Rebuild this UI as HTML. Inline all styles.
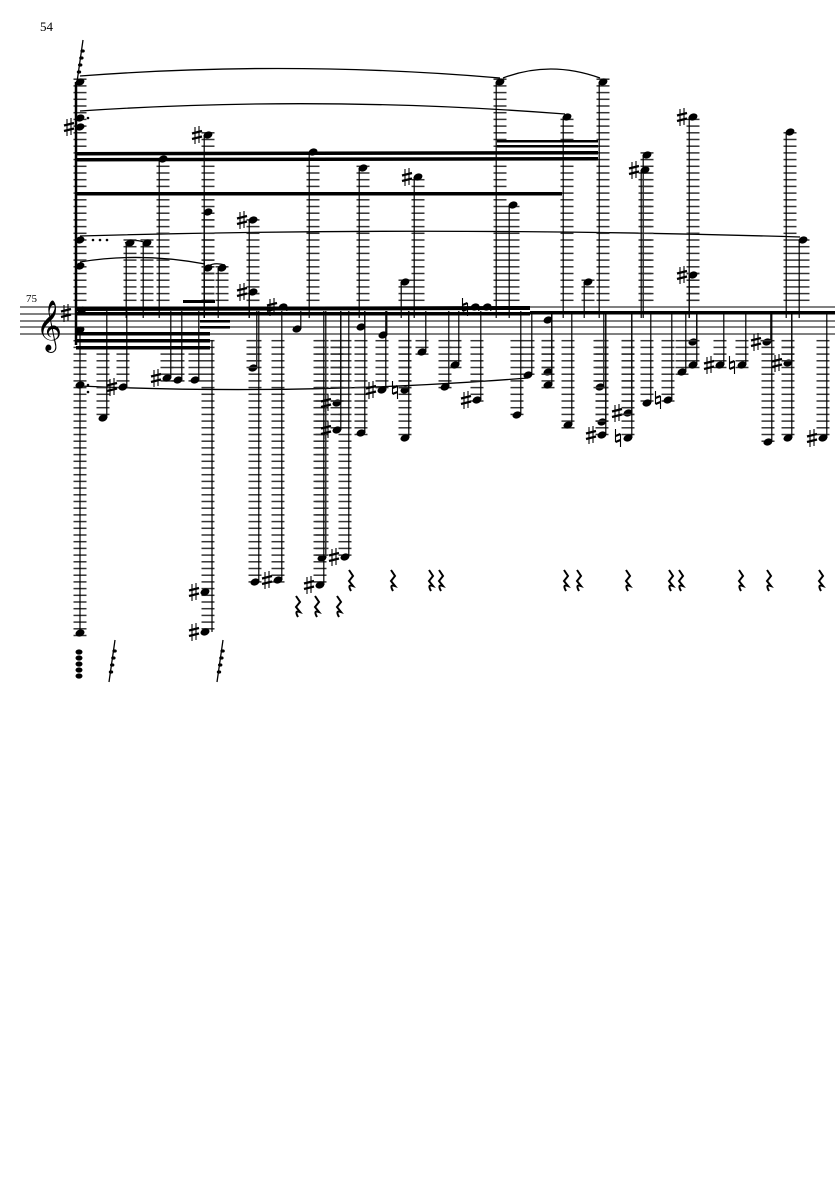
<!DOCTYPE html>
<html><head><meta charset="utf-8"><style>
html,body{margin:0;padding:0;background:#fff;}
svg{display:block;}
text{font-family:"Liberation Serif",serif;}
</style></head><body>
<svg id="s" width="835" height="1181" viewBox="0 0 835 1181" xmlns="http://www.w3.org/2000/svg">
<text x="40" y="31" font-size="13">54</text>
<text x="26" y="302" font-size="11">75</text>
<g stroke="#000" stroke-width="1">
<line x1="20" y1="307" x2="835" y2="307"/><line x1="20" y1="314" x2="835" y2="314"/>
<line x1="20" y1="321" x2="835" y2="321"/><line x1="20" y1="327" x2="835" y2="327"/>
<line x1="20" y1="334" x2="835" y2="334"/>
</g>
<text x="36" y="340" font-size="44">𝄞</text>
<g fill="none" stroke="#000" stroke-width="1.3">
<path d="M80 76 Q290 60 500 78"/><path d="M503 78 Q550 60 600 78"/>
<path d="M80 111 Q320 95 565 114"/>
<path d="M80 236 Q440 226 800 237"/>
<path d="M80 262 Q140 252 205 264"/>
<path d="M80 386 Q300 396 528 378"/>
<path d="M125 243 Q135 238 146 243"/><path d="M208 266 Q215 262 225 265"/>
</g>
<g id="g"></g>
</svg>
<script>
var g=document.getElementById('g'),NS='http://www.w3.org/2000/svg';
function el(t,a){var e=document.createElementNS(NS,t);for(var k in a)e.setAttribute(k,a[k]);g.appendChild(e);return e;}
function line(x1,y1,x2,y2,w,c){el('line',{x1:x1,y1:y1,x2:x2,y2:y2,stroke:c||'#000','stroke-width':w||1});}
function sharp(x,y){line(x-2,y-8,x-2,y+9,1.1);line(x+2,y-9,x+2,y+8,1.1);line(x-5,y-1.5,x+5,y-4,2.4);line(x-5,y+4,x+5,y+1.5,2.4);}
function natural(x,y){line(x-2.5,y-9,x-2.5,y+4,1.1);line(x+2.5,y-4,x+2.5,y+9,1.1);line(x-2.5,y-2,x+2.5,y-4,2.2);line(x-2.5,y+4,x+2.5,y+2,2.2);}
function ledgers(x,y){
 if(y<304){for(var k=1;307-6.7*k>=y-3;k++){var yy=307-6.7*k;line(x-6.5,yy,x+6.5,yy,1.5,'#333');}}
 if(y>337){for(var k=1;334+6.7*k<=y+3;k++){var yy=334+6.7*k;line(x-6.5,yy,x+6.5,yy,1.5,'#333');}}
}
function head(x,y,acc){
 el('ellipse',{cx:x,cy:y,rx:4.6,ry:3.4,transform:'rotate(-20 '+x+' '+y+')',fill:'#000'});
 if(acc=='♯')sharp(x-11,y);else if(acc=='♮')natural(x-10,y);
}
function n(x,y,acc){
 ledgers(x,y);head(x,y,acc);
 if(y<307){line(x-3.8,y,x-3.8,318,1.2);}
 else {line(x+3.8,y,x+3.8,311,1.2);}
}
sharp(66,313);
ledgers(80,82);ledgers(80,633);
line(76,82,76,345,2.5);line(80,330,80,633,1.2);
[[80,82],[80,118],[80,127,'♯'],[80,240],[80,266],[82,310],[80,330],[80,385],[80,633]].forEach(function(a){head(a[0],a[1],a[2]);});
[[88,118],[93,240],[100,240],[107,240],[88,385],[88,392]].forEach(function(a){el('circle',{cx:a[0],cy:a[1],r:1.3,fill:'#000'});});
var notes=[[103,418],[130,243],[147,243],[163,159],[123,387,'♯'],[167,378,'♯'],[178,380],[195,380],
[208,135,'♯'],[208,212],[208,268],[222,268],[253,220,'♯'],[253,292,'♯'],[253,368],[255,582],
[283,307,'♯'],[278,580,'♯'],[297,329],[313,152],[322,558],[320,585,'♯'],[345,557,'♯'],
[363,168],[337,403,'♯'],[337,430,'♯'],[361,433],[361,327],[383,335],[382,390,'♯'],[405,282],
[418,177,'♯'],[405,390,'♮'],[405,438],[422,352],[445,387],[455,365],[475,307,'♮'],[487,307],
[477,400,'♯'],[500,82],[513,205],[517,415],[528,375],[567,117],[548,320],[548,372],[548,385],
[603,82],[588,282],[568,425],[600,387],[602,422],[602,435,'♯'],[628,413,'♯'],[628,438,'♮'],
[647,155],[645,170,'♯'],[647,403],[668,400,'♮'],[682,372],[693,342],[693,365],[693,117,'♯'],
[693,275,'♯'],[720,365,'♯'],[742,365,'♮'],[767,342,'♯'],[768,442],[790,132],[803,240],
[788,363,'♯'],[788,438],[823,438,'♯']];
notes.forEach(function(a){n(a[0],a[1],a[2]);});
ledgers(208,632);line(212,340,212,632,1.2);head(205,592,'♯');head(205,632,'♯');
function beam(x1,y1,x2,y2,h){el('polygon',{points:x1+','+y1+' '+x2+','+y2+' '+x2+','+(y2+h)+' '+x1+','+(y1+h),fill:'#000'});}
beam(76,152,598,151,3.5);beam(76,158,598,157,3.5);beam(76,192,562,192,3.5);
beam(497,140,598,140,2.5);beam(497,145,598,145,2.5);
beam(76,307,530,306,4);beam(76,312,530,312,3.5);beam(530,311,838,311,3.5);
beam(76,332,210,332,3.5);beam(76,339,210,339,3.5);beam(76,346,210,346,3.5);
beam(183,300,215,300,3);beam(200,320,230,320,2.5);beam(200,326,230,326,2.5);
function rest(x,y){el('path',{d:'M'+(x-1)+' '+(y-10)+' L'+(x+3)+' '+(y-4)+' L'+(x-1)+' '+(y+1)+' L'+(x+3)+' '+(y+6)+' Q'+(x-3)+' '+(y+4)+' '+(x+1)+' '+(y+11),fill:'none',stroke:'#000','stroke-width':'2'});}
[350,392,430,440,565,578,627,670,680,740,768,820].forEach(function(x){rest(x,580);});
[297,316,338].forEach(function(x){rest(x,606);});
[[80,60],[112,660],[220,660]].forEach(function(a){line(a[0]-3,a[1]+22,a[0]+3,a[1]-20,1.3);for(var i=0;i<4;i++)el('ellipse',{cx:a[0]-1+i*1.2,cy:a[1]+12-i*7,rx:2.2,ry:1.6,fill:'#000'});});
for(var i=0;i<5;i++)el('ellipse',{cx:79,cy:652+i*6,rx:3.5,ry:2.6,fill:'#000'});
</script>
</body></html>
